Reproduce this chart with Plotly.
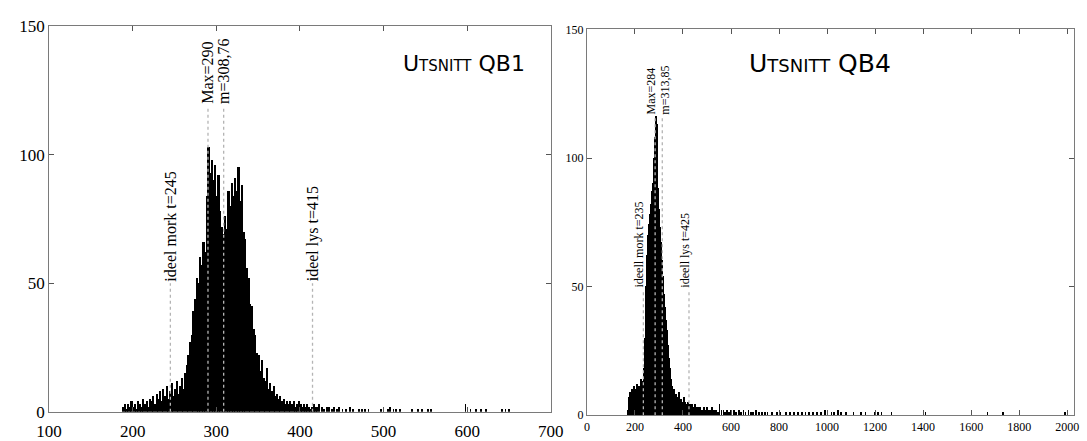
import plotly.graph_objects as go

W, H = 1087, 441

# ---------------- data: Utsnitt QB1 (left) ----------------
qb1_bin_start = 186
qb1_bin_width = 2
qb1_counts = [
    0, 2, 3, 1, 3, 2, 4, 2, 3, 1, 4, 3, 2, 5, 3, 4, 2, 5, 4, 6,
    3, 7, 5, 8, 4, 9, 6, 10, 5, 8, 11, 6, 9, 12, 7, 10, 13, 9, 15, 18,
    22, 27, 30, 39, 44, 52, 50, 60, 57, 66, 62, 84, 103, 93, 98, 90, 96, 84, 92, 78,
    72, 69, 76, 71, 86, 80, 89, 84, 91, 86, 95, 82, 88, 70, 67, 56, 52, 42, 41, 32,
    30, 23, 22, 16, 20, 13, 12, 17, 9, 11, 8, 10, 6, 7, 5, 6, 4, 5, 3, 4,
    3, 4, 3, 4, 2, 3, 4, 3, 2, 3, 2, 3, 2, 1, 2, 3, 2,
]
qb1_tail_x = [421, 423, 426, 429, 432, 435, 438, 441, 444, 447, 451, 455, 460, 464,
              471, 474, 478, 482, 497, 505, 508, 512, 515, 520, 534, 541, 546, 553,
              557, 598, 604, 611, 617, 623, 642, 646, 650]
qb1_tail_counts = [2, 3, 2, 1, 2, 2, 1, 2, 1, 2, 1, 1, 2, 1,
                   1, 1, 1, 1, 1, 1, 2, 1, 1, 1, 1, 1, 1, 1,
                   1, 3, 1, 1, 1, 1, 1, 1, 1]
qb1_marks = ["ideel mork t=245", "Max=290", "m=308,76", "ideel lys t=415"]
qb1_mark_x = [245, 290, 308.76, 415]
qb1_mark_top = [50, 119, 119, 50]

# ---------------- data: Utsnitt QB4 (right) ----------------
qb4_bin_start = 168
qb4_bin_width = 4
qb4_counts = [
    2, 7, 9, 8, 10, 7, 11, 9, 10, 8, 12, 9, 11, 10, 14, 9, 13, 18, 30, 50,
    62, 70, 74, 78, 82, 87, 90, 100, 108, 116, 113, 88, 80, 76, 73, 67, 60, 54, 47, 42,
    37, 33, 27, 22, 18, 14, 11, 9, 10, 7, 8, 6, 7, 9, 5, 6, 4, 5, 7, 3,
    5, 4, 3, 5, 3, 4, 2, 4, 3, 2, 4, 2, 3, 2, 3,
]
qb4_tail_x = [470, 478, 486, 494, 500, 508, 516, 522, 530, 538, 546, 552, 560, 568, 576,
              584, 592, 600, 612, 620, 632, 640, 652, 660, 672, 684, 692, 704, 716, 728,
              740, 752, 770, 790, 806, 830, 846, 862, 878, 894, 910, 926, 942, 958, 974,
              990, 1002, 1018, 1030, 1046, 1058, 1080, 1110, 1140, 1160, 1200, 1212, 1226,
              1268, 1402, 1410, 1668, 1732, 1990]
qb4_tail_counts = [3, 2, 3, 2, 3, 2, 2, 3, 2, 2, 1, 4, 2, 2, 1,
                   2, 1, 2, 2, 1, 2, 1, 2, 1, 2, 1, 1, 2, 1, 1,
                   1, 1, 1, 1, 1, 1, 1, 1, 1, 1, 1, 1, 1, 1, 1,
                   2, 1, 1, 1, 2, 1, 1, 1, 1, 1, 1, 1, 1,
                   1, 2, 1, 1, 1, 1]
qb4_marks = ["ideell mork t=235", "Max=284", "m=313,85", "ideell lys t=425"]
qb4_mark_x = [235, 284, 313.85, 425]
qb4_mark_top = [49, 116, 116, 49]
qb4_mark_shift = [-4, -4, 3, -4]

# ---------------- figure ----------------
fig = go.Figure()

def centers(start, width, n):
    return [start + width * (i + 0.5) for i in range(n)]

bar_style = dict(color="black", line=dict(width=0))

fig.add_trace(go.Bar(x=centers(qb1_bin_start, qb1_bin_width, len(qb1_counts)), y=qb1_counts,
                     width=qb1_bin_width, marker=bar_style, xaxis="x", yaxis="y"))
fig.add_trace(go.Bar(x=qb1_tail_x, y=qb1_tail_counts, width=1, marker=bar_style,
                     xaxis="x", yaxis="y"))
fig.add_trace(go.Bar(x=centers(qb4_bin_start, qb4_bin_width, len(qb4_counts)), y=qb4_counts,
                     width=qb4_bin_width, marker=bar_style, xaxis="x2", yaxis="y2"))
fig.add_trace(go.Bar(x=qb4_tail_x, y=qb4_tail_counts, width=3, marker=bar_style,
                     xaxis="x2", yaxis="y2"))

shapes = []
annotations = []
for label, xv, top in zip(qb1_marks, qb1_mark_x, qb1_mark_top):
    shapes.append(dict(type="line", xref="x", yref="y", x0=xv, x1=xv, y0=0, y1=top,
                       line=dict(color="#b4b4b4", width=1.3, dash="dot"), layer="above"))
    annotations.append(dict(x=xv, y=top, xref="x", yref="y", text=label, showarrow=False,
                            textangle=-90, xanchor="center", yanchor="bottom",
                            font=dict(family="Liberation Serif", size=16, color="black")))
for label, xv, top, sh in zip(qb4_marks, qb4_mark_x, qb4_mark_top, qb4_mark_shift):
    shapes.append(dict(type="line", xref="x2", yref="y2", x0=xv, x1=xv, y0=0, y1=top,
                       line=dict(color="#b4b4b4", width=1.3, dash="dot"), layer="above"))
    annotations.append(dict(x=xv, y=top, xref="x2", yref="y2", text=label, showarrow=False,
                            textangle=-90, xanchor="center", yanchor="bottom", xshift=sh,
                            font=dict(family="Liberation Serif", size=12, color="black")))

annotations.append(dict(x=462 / W, y=1 - 57 / H, xref="paper", yref="paper",
                        text="Utsnitt QB1", showarrow=False, xanchor="center", yanchor="middle",
                        font=dict(family="DejaVu Sans", size=22, color="black", variant="small-caps")))
annotations.append(dict(x=827 / W, y=1 - 57 / H, xref="paper", yref="paper",
                        text="Utsnitt QB4", showarrow=False, xanchor="center", yanchor="middle",
                        font=dict(family="DejaVu Sans", size=25, color="black", variant="small-caps")))

axis_common = dict(ticks="inside", ticklen=5, tickcolor="#555", showline=True,
                   linecolor="#7a7a7a", linewidth=1, mirror="ticks", showgrid=False,
                   zeroline=False)

fig.update_layout(
    width=W, height=H,
    margin=dict(l=0, r=0, t=0, b=0),
    paper_bgcolor="white", plot_bgcolor="white",
    showlegend=False, barmode="overlay", bargap=0,
    xaxis=dict(domain=[37 / W, 551 / W], range=[100, 700], tick0=100, dtick=100,
               anchor="y", ticklabelstandoff=4,
               tickfont=dict(family="Liberation Serif", size=17, color="black"),
               **axis_common),
    yaxis=dict(domain=[1 - 423 / H, 1 - 18 / H], range=[0, 150], tick0=0, dtick=50,
               anchor="x", tickfont=dict(family="Liberation Serif", size=17, color="black"),
               **axis_common),
    xaxis2=dict(domain=[588 / W, 1], range=[0, 2000 * (W - 588) / (1080 - 588)], tick0=0,
                dtick=200, anchor="y2", ticklabeloverflow="allow",
                tickfont=dict(family="Liberation Serif", size=12, color="black"),
                **axis_common),
    yaxis2=dict(domain=[1 - 426.5 / H, 1 - 21.5 / H], range=[0, 150], tick0=0, dtick=50,
                anchor="x2", tickfont=dict(family="Liberation Serif", size=12, color="black"),
                **axis_common),
    shapes=shapes,
    annotations=annotations,
)

fig.write_html("out.html")
